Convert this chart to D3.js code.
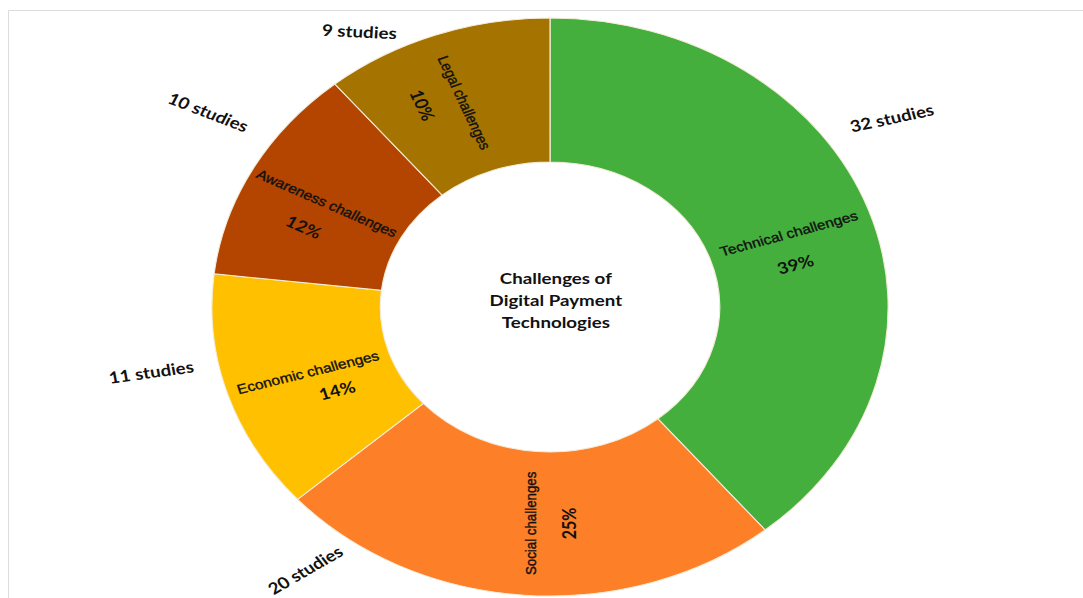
<!DOCTYPE html>
<html>
<head>
<meta charset="utf-8">
<script src="https://cdn.jsdelivr.net/npm/d3@7"></script>
<style>
  body { margin: 0; background: #fff; }
</style>
</head>
<body>
<div id="container"></div>
<script>
  // slices, clockwise from 12 o'clock
  const categories = ["Technical challenges", "Social challenges", "Economic challenges", "Awareness challenges", "Legal challenges"];
  const studies = [32, 20, 11, 10, 9];
  const percentLabels = ["39%", "25%", "14%", "12%", "10%"];
  const colors = ["#45AF3D", "#FD7F27", "#FFC000", "#B34500", "#A57400"];
  const title = ["Challenges of", "Digital Payment", "Technologies"];

  // hand-placed label layout (like the original text boxes)
  const nameRotate = [-17.5, -90, -16, 27, 68];
  const pctOffset = [[-4, 31], [0, 33], [19, 24], [-7, 30], [-11, 34]];
  const studyPos = [[57.1, 348, -14], [218.5, 336, -34], [259.2, 347, -9], [303.7, 351, 24], [329.4, 320, 3]];

  const width = 1083;
  const height = 598;
  const cx = 550, cy = 307;
  const stretch = 1.17;   // the original picture is wider than tall
  const outerR = 289, innerR = 145;

  const svg = d3.select("#container")
    .append("svg")
    .attr("width", width)
    .attr("height", height)
    .attr("viewBox", [0, 0, width, height]);

  // faint frame of the screenshot
  svg.append("path")
    .attr("d", `M8.5,${height} V10.5 H${width}`)
    .attr("fill", "none")
    .attr("stroke", "#dcdcdc");

  const g = svg.append("g")
    .attr("transform", `translate(${cx},${cy}) scale(${stretch},1)`);

  const pie = d3.pie().sort(null).value(d => d);
  const arcs = pie(studies);

  const arc = d3.arc().innerRadius(innerR).outerRadius(outerR);

  g.selectAll("path.slice")
    .data(arcs)
    .join("path")
    .attr("class", "slice")
    .attr("d", arc)
    .attr("fill", (d, i) => colors[i])
    .attr("stroke", "#f3ecd9")
    .attr("stroke-width", 1);

  // category + percent labels
  const lab = g.selectAll("g.lab")
    .data(arcs)
    .join("g")
    .attr("class", "lab")
    .attr("transform", (d, i) => {
      const [x, y] = arc.centroid(d);
      return `translate(${x},${y}) rotate(${nameRotate[i]})`;
    });

  lab.append("text")
    .attr("text-anchor", "middle")
    .attr("dominant-baseline", "central")
    .attr("font-family", "'Liberation Sans', Arial, sans-serif")
    .attr("font-size", 13.3)
    .attr("fill", "#111")
    .attr("stroke", "#111")
    .attr("stroke-width", 0.35)
    .text((d, i) => categories[i]);

  lab.append("text")
    .attr("x", (d, i) => pctOffset[i][0])
    .attr("y", (d, i) => pctOffset[i][1])
    .attr("text-anchor", "middle")
    .attr("dominant-baseline", "central")
    .attr("font-family", "Lato, 'Open Sans', sans-serif")
    .attr("font-weight", "bold")
    .attr("font-size", 16)
    .attr("fill", "#111")
    .text((d, i) => percentLabels[i]);

  // "N studies" outside the ring
  g.selectAll("text.studies")
    .data(arcs)
    .join("text")
    .attr("class", "studies")
    .attr("transform", (d, i) => {
      const [a, r, rot] = studyPos[i];
      const t = a * Math.PI / 180;
      return `translate(${r * Math.sin(t)},${-r * Math.cos(t)}) rotate(${rot})`;
    })
    .attr("text-anchor", "middle")
    .attr("dominant-baseline", "central")
    .attr("font-family", "Lato, 'Open Sans', sans-serif")
    .attr("font-weight", "bold")
    .attr("font-size", 16)
    .attr("fill", "#111")
    .text(d => `${d.data} studies`);

  // centre title
  g.append("text")
    .attr("text-anchor", "middle")
    .attr("font-family", "Lato, 'Open Sans', sans-serif")
    .attr("font-weight", "bold")
    .attr("font-size", 16)
    .attr("fill", "#111")
    .selectAll("tspan")
    .data(title)
    .join("tspan")
    .attr("x", 5)
    .attr("y", (d, i) => -29 + i * 22)
    .attr("dominant-baseline", "central")
    .text(d => d);
</script>
</body>
</html>
